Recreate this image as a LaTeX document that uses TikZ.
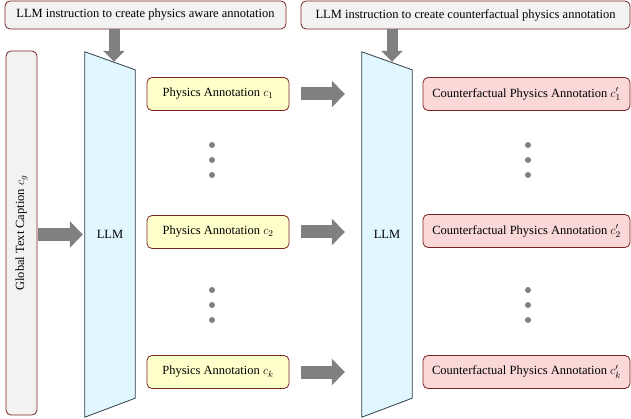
\documentclass[tikz,border=0pt]{standalone}
\usepackage{fontspec}
\setmainfont{Liberation Serif}
\usetikzlibrary{arrows.meta,calc,backgrounds}
\definecolor{edgered}{RGB}{122,36,36}
\definecolor{boxgray}{RGB}{242,242,242}
\definecolor{boxyellow}{RGB}{255,255,204}
\definecolor{boxpink}{RGB}{250,216,216}
\definecolor{llmcyan}{RGB}{224,247,255}
\definecolor{llmedge}{RGB}{52,62,72}
\definecolor{flowgray}{RGB}{128,128,128}
\tikzset{
  ibox/.style={rounded corners=5pt, draw=edgered, fill=boxgray, line width=0.8pt,
               minimum height=28pt, inner sep=0pt, font=\fontsize{12.5}{15}\selectfont},
  ybox/.style={rounded corners=5pt, draw=edgered, fill=boxyellow, line width=0.8pt,
               minimum width=142pt, minimum height=33pt, inner sep=0pt, font=\fontsize{12.5}{15}\selectfont},
  rbox/.style={rounded corners=5pt, draw=edgered, fill=boxpink, line width=0.8pt,
               minimum width=207pt, minimum height=33pt, inner sep=0pt, font=\fontsize{12.5}{15}\selectfont},
  cbox/.style={rounded corners=5pt, draw=edgered, fill=boxgray, line width=0.8pt,
               minimum width=31pt, minimum height=364pt, inner sep=0pt, font=\fontsize{12.5}{15}\selectfont},
  llmbox/.style={minimum width=50pt, minimum height=365pt, inner sep=0pt, font=\fontsize{12.5}{15}\selectfont},
  llmshape/.style={draw=llmedge, fill=llmcyan, line width=0.8pt},
  flow/.style={-{Triangle[length=13pt,width=26pt]}, line width=13pt, draw=flowgray},
  flowdown/.style={-{Triangle[length=11pt,width=21pt]}, line width=11pt, draw=flowgray},
  dot/.style={fill=flowgray},
}
\begin{document}
\begin{tikzpicture}[x=1pt, y=-1pt]
  \useasboundingbox (0,0) rectangle (631,419);
  % instructions on top
  \node[ibox, minimum width=281pt] (instrA) at (145.5,15) {LLM instruction to create physics aware annotation};
  \node[ibox, minimum width=329pt] (instrB) at (465.5,15) {LLM instruction to create counterfactual physics annotation};
  % global caption
  \node[cbox] (cap) at (21.5,233) {\rotatebox{90}{Global Text Caption $c_g$}};
  % the two LLMs
  \node[llmbox] (llmA) at (110,234.5) {LLM};
  \node[llmbox] (llmB) at (387,234.5) {LLM};
  \begin{scope}[on background layer]
    \draw[llmshape] (llmA.north west) -- ($(llmA.north east)+(0,18)$)
      -- ($(llmA.south east)+(0,-19)$) -- (llmA.south west) -- cycle;
    \draw[llmshape] (llmB.north west) -- ($(llmB.north east)+(0,18)$)
      -- ($(llmB.south east)+(0,-19)$) -- (llmB.south west) -- cycle;
  \end{scope}
  % annotations
  \node[ybox] (pa1) at (218,94) {Physics Annotation $c_1$};
  \node[ybox] (pa2) at (218,232) {Physics Annotation $c_2$};
  \node[ybox] (pak) at (218,372) {Physics Annotation $c_k$};
  \node[rbox] (ca1) at (526.5,94) {Counterfactual Physics Annotation $c_1'$};
  \node[rbox] (ca2) at (526.5,231) {Counterfactual Physics Annotation $c_2'$};
  \node[rbox] (cak) at (526.5,372) {Counterfactual Physics Annotation $c_k'$};
  % arrows
  \coordinate (tipA) at ($(llmA.north)+(4,10)$);
  \coordinate (tipB) at ($(llmB.north)+(5,10)$);
  \draw[flowdown] (instrA.south -| tipA) -- (tipA);
  \draw[flowdown] (instrB.south -| tipB) -- (tipB);
  \draw[flow, shorten <=1pt, shorten >=2pt] (cap.east |- llmA.west) -- (llmA.west);
  \draw[flow, shorten <=12pt, shorten >=17pt] (pa1.east) -- (pa1.east -| llmB.west);
  \draw[flow, shorten <=12pt, shorten >=17pt] (pa2.east) -- (pa2.east -| llmB.west);
  \draw[flow, shorten <=12pt, shorten >=17pt] (pak.east) -- (pak.east -| llmB.west);
  % dots
  \foreach \y in {145,160,175,290,305,320} {
    \fill[dot] (212,\y) circle (3pt);
    \fill[dot] (528,\y) circle (3pt);
  }
\end{tikzpicture}
\end{document}
